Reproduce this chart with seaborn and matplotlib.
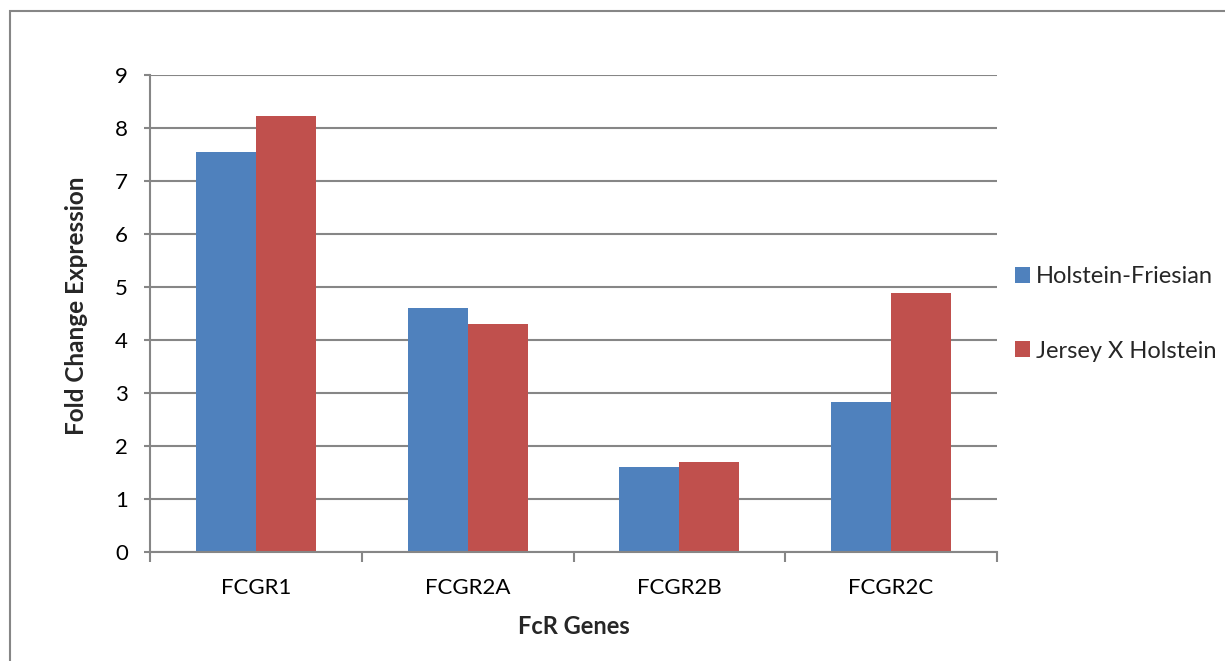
import matplotlib
matplotlib.use("Agg")
import matplotlib.pyplot as plt
import matplotlib.patches as mpatches
import seaborn as sns
import pandas as pd
import numpy as np

genes = ["FCGR1", "FCGR2A", "FCGR2B", "FCGR2C"]
holstein_friesian = [7.55, 4.59, 1.60, 2.82]
jersey_x_holstein = [8.23, 4.30, 1.69, 4.89]
breeds = ["Holstein-Friesian", "Jersey X Holstein"]
colors = ["#4F81BD", "#C0504D"]
y_ticks = list(range(0, 10))

df = pd.DataFrame({
    "gene": genes * 2,
    "breed": [breeds[0]] * len(genes) + [breeds[1]] * len(genes),
    "value": holstein_friesian + jersey_x_holstein,
})

sns.set_theme(style="white")
plt.rcParams["font.family"] = ["Lato", "DejaVu Sans"]

grid_c = "#868686"
fig = plt.figure(figsize=(12.25, 6.61), dpi=100)
ax = fig.add_axes([150 / 1225, 109.3 / 661, 847 / 1225, 477 / 661])

sns.barplot(data=df, x="gene", y="value", hue="breed", palette=colors,
            width=0.567, gap=0, ax=ax, legend=False, saturation=1,
            edgecolor="none", linewidth=0)

ax.set_xlim(-0.5, len(genes) - 0.5)
ax.set_ylim(0, 9)
ax.set_yticks(y_ticks)
ax.yaxis.grid(True, color=grid_c, linewidth=1.5)
ax.set_axisbelow(True)

for s in ["top", "right"]:
    ax.spines[s].set_visible(False)
for s in ["left", "bottom"]:
    ax.spines[s].set_color(grid_c)
    ax.spines[s].set_linewidth(1.5)

ax.tick_params(axis="y", which="major", length=4, width=1.5, color=grid_c,
               left=True, pad=12, labelsize=16, labelcolor="black")
ax.tick_params(axis="x", which="major", length=0, pad=19, labelsize=16,
               labelcolor="black")
ax.set_xticks(np.arange(-0.5, len(genes)), minor=True)
ax.tick_params(axis="x", which="minor", length=7, width=1.5, color=grid_c,
               bottom=True)

ax.set_xlabel("FcR Genes", fontsize=17, fontweight="bold", labelpad=12)
ax.set_ylabel("Fold Change Expression", fontsize=17.5, fontweight="bold")
ax.yaxis.set_label_coords(-0.073, 0.515)

handles = [mpatches.Patch(facecolor=c, edgecolor="none") for c in colors]
fig.legend(handles, breeds, loc="center left",
           bbox_to_anchor=(994 / 1225, 1 - 314 / 661), frameon=False,
           fontsize=17, handlelength=0.64, handleheight=0.64,
           handletextpad=0.25, labelspacing=2.25)

# outer chart border
fig.patches.append(mpatches.Rectangle((10 / 1225, -0.1), 1.2, 1 - 11 / 661 + 0.1,
                                      transform=fig.transFigure, fill=False,
                                      edgecolor=grid_c, linewidth=1.5))

fig.savefig("out.png", dpi=100)
